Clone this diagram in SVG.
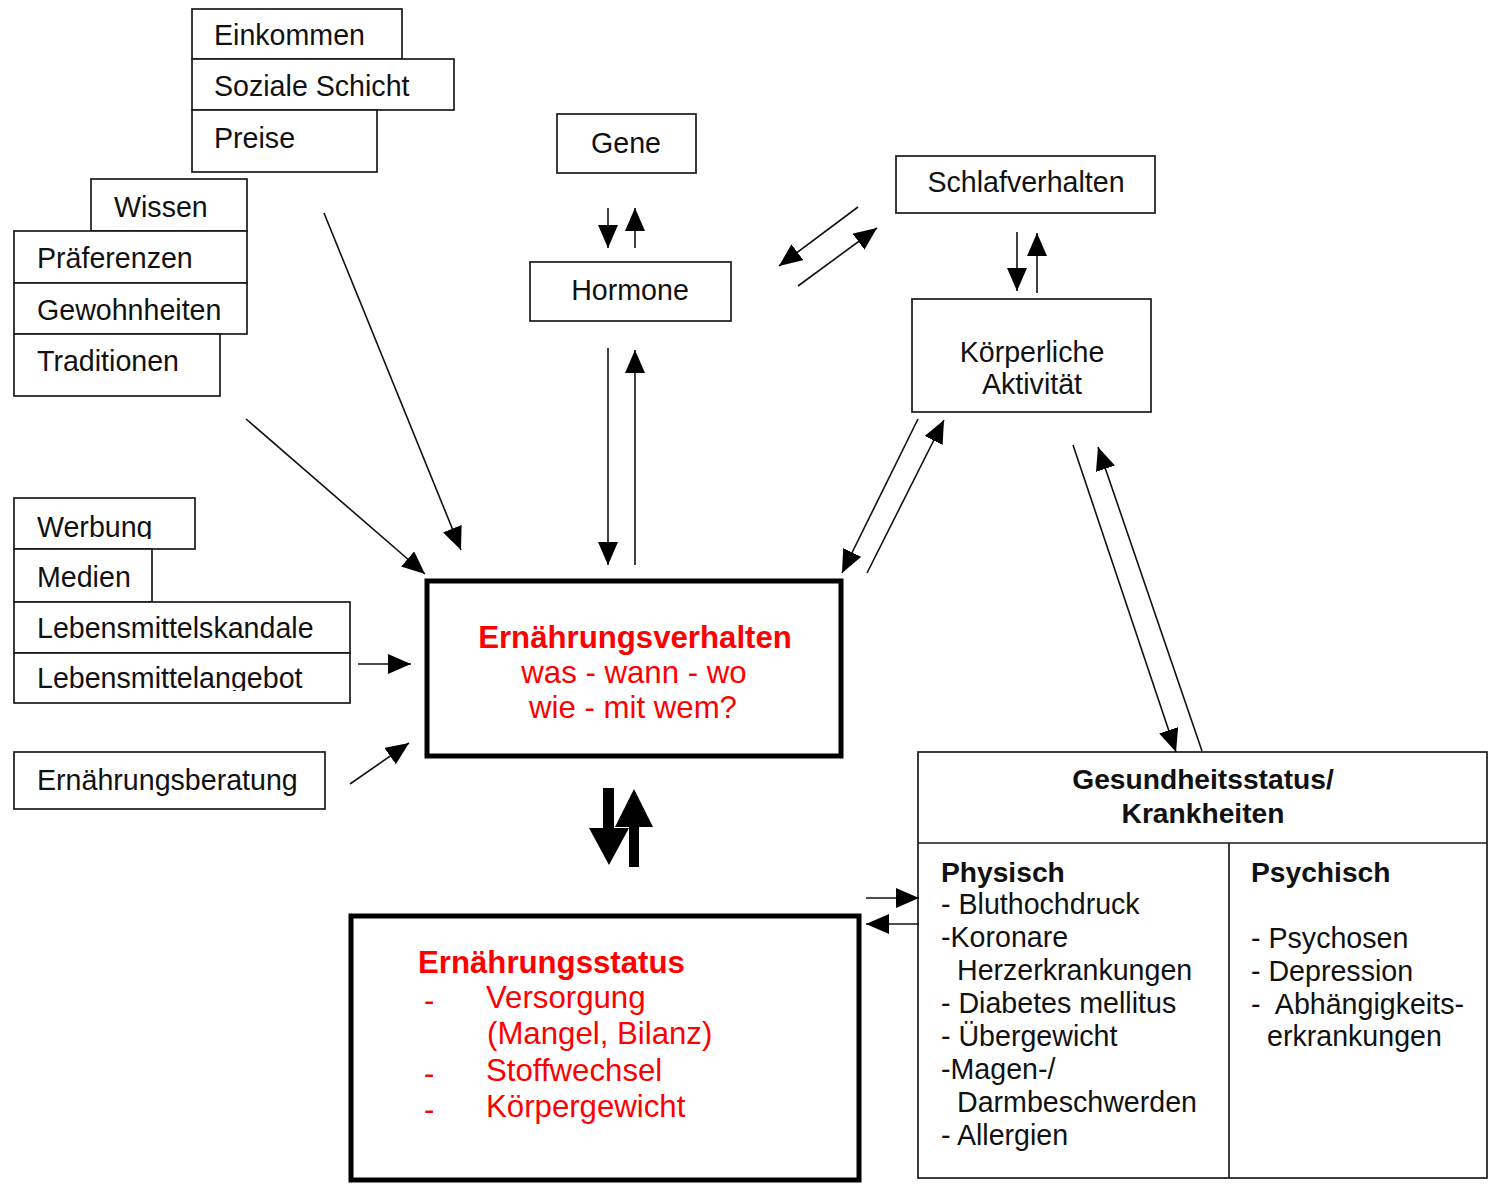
<svg xmlns="http://www.w3.org/2000/svg" width="1490" height="1184" viewBox="0 0 1490 1184">
<style>
.box{fill:#fff;stroke:#1a1a1a;stroke-width:1.7}
.thick{fill:#fff;stroke:#000;stroke-width:5}
.t{font-family:"Liberation Sans",Arial,sans-serif;font-size:28.6px;fill:#111}
.b{font-weight:bold;font-size:28.2px}
.c{text-anchor:middle}
.r{font-family:"Liberation Sans",Arial,sans-serif;font-size:31.2px;fill:#ff0000}
.ln{stroke:#111;stroke-width:1.6;fill:none;marker-end:url(#ah)}
</style>
<defs>
<marker id="ah" markerUnits="userSpaceOnUse" markerWidth="24" markerHeight="20" refX="23" refY="10" orient="auto">
<path d="M0,0 L23,10 L0,20 z" fill="#000"/>
</marker>
<clipPath id="cw"><rect x="0" y="490" width="300" height="49"/></clipPath>
<clipPath id="cl"><rect x="0" y="655" width="400" height="36"/></clipPath>
</defs>

<g id="einkommen"><rect class="box" x="192" y="9" width="210" height="50"/><text class="t" x="214" y="45">Einkommen</text></g>
<g id="soziale-schicht"><rect class="box" x="192" y="59" width="262" height="51"/><text class="t" x="214" y="96">Soziale Schicht</text></g>
<g id="preise"><rect class="box" x="192" y="110" width="185" height="62"/><text class="t" x="214" y="148">Preise</text></g>

<g id="wissen"><rect class="box" x="91" y="179" width="156" height="52"/><text class="t" x="114" y="217">Wissen</text></g>
<g id="praeferenzen"><rect class="box" x="14" y="231" width="233" height="52"/><text class="t" x="37" y="268">Präferenzen</text></g>
<g id="gewohnheiten"><rect class="box" x="14" y="283" width="233" height="51"/><text class="t" x="37" y="320">Gewohnheiten</text></g>
<g id="traditionen"><rect class="box" x="14" y="334" width="206" height="62"/><text class="t" x="37" y="371">Traditionen</text></g>

<g id="werbung"><rect class="box" x="14" y="498" width="181" height="51"/><text class="t" x="37" y="537" clip-path="url(#cw)">Werbung</text></g>
<g id="medien"><rect class="box" x="14" y="549" width="138" height="53"/><text class="t" x="37" y="587">Medien</text></g>
<g id="lebensmittelskandale"><rect class="box" x="14" y="602" width="336" height="51"/><text class="t" x="37" y="638">Lebensmittelskandale</text></g>
<g id="lebensmittelangebot"><rect class="box" x="14" y="653" width="336" height="50"/><text class="t" x="37" y="688" clip-path="url(#cl)">Lebensmittelangebot</text></g>
<g id="ernaehrungsberatung"><rect class="box" x="14" y="752" width="311" height="57"/><text class="t" x="37" y="790">Ernährungsberatung</text></g>

<g id="gene"><rect class="box" x="557" y="114" width="139" height="59"/><text class="t c" x="626" y="153">Gene</text></g>
<g id="hormone"><rect class="box" x="530" y="262" width="201" height="59"/><text class="t c" x="630" y="300">Hormone</text></g>
<g id="schlafverhalten"><rect class="box" x="896" y="156" width="259" height="57"/><text class="t c" x="1026" y="192">Schlafverhalten</text></g>
<g id="koerperliche-aktivitaet"><rect class="box" x="912" y="299" width="239" height="113"/><text class="t c" x="1032" y="362">Körperliche</text><text class="t c" x="1032" y="394">Aktivität</text></g>

<g id="ernaehrungsverhalten"><rect class="thick" x="427" y="581" width="414" height="175"/>
<text class="r b c" x="635" y="648" style="font-size:31.2px">Ernährungsverhalten</text>
<text class="r c" x="634" y="683">was - wann - wo</text>
<text class="r c" x="633" y="718">wie - mit wem?</text></g>

<g id="ernaehrungsstatus"><rect class="thick" x="351" y="916" width="508" height="264"/>
<text class="r b" x="418" y="973" style="font-size:31.2px">Ernährungsstatus</text>
<text class="r" x="424" y="1011">-</text><text class="r" x="486" y="1008">Versorgung</text>
<text class="r" x="487" y="1044">(Mangel, Bilanz)</text>
<text class="r" x="424" y="1084">-</text><text class="r" x="486" y="1081">Stoffwechsel</text>
<text class="r" x="424" y="1120">-</text><text class="r" x="486" y="1117">Körpergewicht</text></g>

<g id="gesundheitsstatus"><rect class="box" x="918" y="752" width="569" height="426"/>
<line x1="918" y1="843" x2="1487" y2="843" stroke="#1a1a1a" stroke-width="1.7"/>
<line x1="1229" y1="843" x2="1229" y2="1178" stroke="#1a1a1a" stroke-width="1.7"/>
<text class="t b c" x="1203" y="789">Gesundheitsstatus/</text>
<text class="t b c" x="1203" y="823">Krankheiten</text>
<text class="t b" x="941" y="882">Physisch</text>
<text class="t" x="941" y="914">- Bluthochdruck</text>
<text class="t" x="941" y="947">-Koronare</text>
<text class="t" x="957" y="980">Herzerkrankungen</text>
<text class="t" x="941" y="1013">- Diabetes mellitus</text>
<text class="t" x="941" y="1046">- Übergewicht</text>
<text class="t" x="941" y="1079">-Magen-/</text>
<text class="t" x="957" y="1112">Darmbeschwerden</text>
<text class="t" x="941" y="1145">- Allergien</text>
<text class="t b" x="1251" y="882">Psychisch</text>
<text class="t" x="1251" y="948">- Psychosen</text>
<text class="t" x="1251" y="981">- Depression</text>
<text class="t" x="1251" y="1014" xml:space="preserve">-  Abhängigkeits-</text>
<text class="t" x="1267" y="1046">erkrankungen</text></g>

<g id="connectors">
<line class="ln" x1="324" y1="213" x2="461" y2="550"/>
<line class="ln" x1="246" y1="419" x2="425" y2="574"/>
<line class="ln" x1="358" y1="664" x2="411" y2="664"/>
<line class="ln" x1="350" y1="784" x2="409" y2="743"/>
<line class="ln" x1="608" y1="208" x2="608" y2="248"/>
<line class="ln" x1="635" y1="248" x2="635" y2="208"/>
<line class="ln" x1="608" y1="348" x2="608" y2="565"/>
<line class="ln" x1="635" y1="565" x2="635" y2="350"/>
<line class="ln" x1="858" y1="207" x2="779" y2="266"/>
<line class="ln" x1="798" y1="286" x2="877" y2="228"/>
<line class="ln" x1="1017" y1="232" x2="1017" y2="291"/>
<line class="ln" x1="1037" y1="293" x2="1037" y2="233"/>
<line class="ln" x1="918" y1="419" x2="842" y2="573"/>
<line class="ln" x1="867" y1="573" x2="944" y2="420"/>
<line class="ln" x1="1073" y1="445" x2="1176" y2="752"/>
<line class="ln" x1="1202" y1="751" x2="1098" y2="447"/>
<line class="ln" x1="866" y1="898" x2="919" y2="898"/>
<line class="ln" x1="919" y1="924" x2="866" y2="924"/>
<polygon points="603,788 614,788 614,828 629,828 609,865 589,828 603,828" fill="#000"/>
<polygon points="634,789 653,827 639,827 639,867 629,867 629,827 615,827" fill="#000"/>
</g>
</svg>
